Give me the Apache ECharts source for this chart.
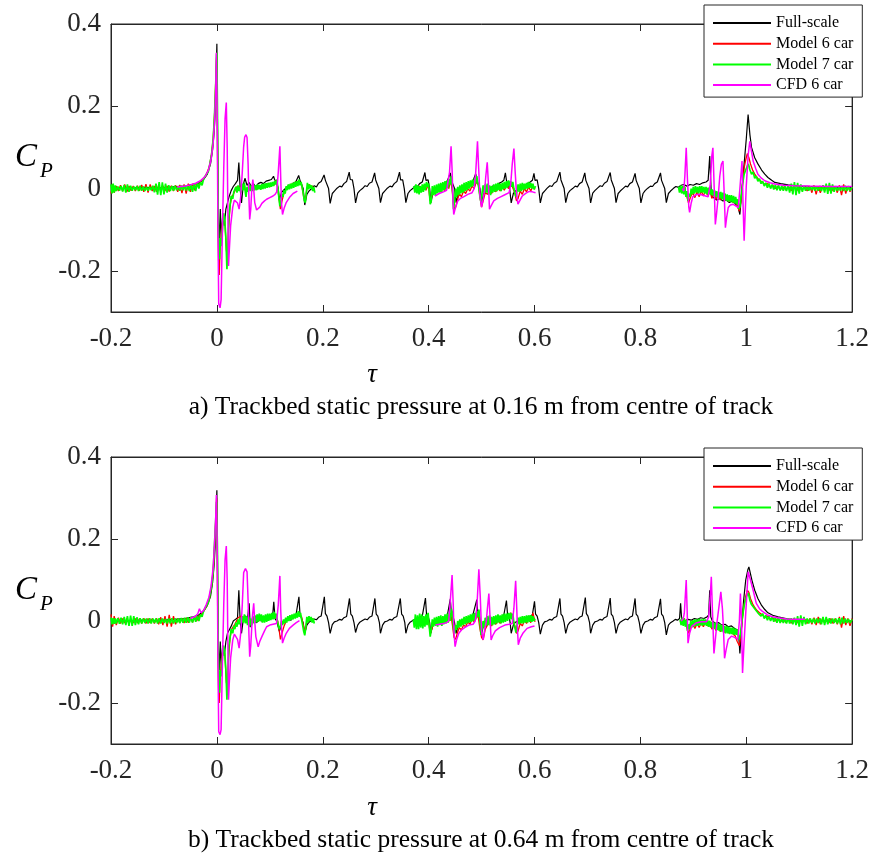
<!DOCTYPE html>
<html><head><meta charset="utf-8">
<script src="https://cdn.jsdelivr.net/npm/echarts@6/dist/echarts.min.js"></script>
<style>html,body{margin:0;padding:0;background:#fff;}#c{width:872px;height:857px;}</style>
</head><body><div id="c"></div>
<script>
const seriesNames = ['Full-scale', 'Model 6 car', 'Model 7 car', 'CFD 6 car'];
const xTicks = [-0.2, 0, 0.2, 0.4, 0.6, 0.8, 1, 1.2];
const yTicks = [-0.2, 0, 0.2, 0.4];
const captionA = 'a) Trackbed static pressure at 0.16 m from centre of track';
const captionB = 'b) Trackbed static pressure at 0.64 m from centre of track';

// ---------- (a) 0.16 m ----------
const fullScaleA = [[-0.2,0.002],[-0.17,0.0],[-0.14,0.003],[-0.11,0.001],[-0.08,0.004],[-0.06,0.006],[-0.045,0.01],[-0.035,0.013],[-0.025,0.022],[-0.018,0.035],[-0.012,0.06],[-0.008,0.095],[-0.005,0.14],[-0.003,0.19],[-0.0015,0.26],[0,0.352],[0.0015,0.1],[0.003,-0.08],[0.0045,-0.135],[0.0065,-0.05],[0.0085,-0.125],[0.011,-0.065],[0.014,-0.09],[0.017,-0.05],[0.02,-0.035],[0.023,-0.02],[0.027,-0.005],[0.031,0.005],[0.035,0.012],[0.039,0.02],[0.0415,0.063],[0.044,0.0],[0.0465,-0.035],[0.05,0.01],[0.053,0.025],[0.057,0.008],[0.061,0.015],[0.065,0.005],[0.069,0.012],[0.073,0.004],[0.078,0.012],[0.083,0.015],[0.088,0.012],[0.093,0.018],[0.098,0.02],[0.103,0.022],[0.107,0.03],[0.109,0.022],[0.113,0.015],[0.116,0.0],
[0.118,-0.028],[0.122,-0.01],[0.126,-0.004],[0.131,0.002],[0.136,0.008],[0.14,0.005],[0.144,0.013],[0.149,0.016],[0.152,0.02],[0.1545,0.032],[0.157,0.02],[0.16,0.021],[0.163,0.0],
[0.166,-0.04],[0.17,-0.014],[0.174,-0.006],[0.179,0.0],[0.184,0.007],[0.188,0.004],[0.192,0.013],[0.197,0.017],[0.2,0.02],[0.2025,0.033],[0.205,0.02],[0.208,0.021],[0.211,0.0],
[0.214,-0.036],[0.218,-0.012],[0.222,-0.006],[0.227,0.001],[0.232,0.006],[0.236,0.004],[0.24,0.012],[0.245,0.017],[0.248,0.021],[0.25,0.04],[0.252,0.022],[0.256,0.021],[0.259,0.0],
[0.262,-0.035],[0.266,-0.011],[0.27,-0.005],[0.275,0.0],[0.28,0.007],[0.284,0.005],[0.288,0.013],[0.293,0.016],[0.296,0.02],[0.298,0.038],[0.3,0.021],[0.303,0.022],[0.306,0.0],
[0.309,-0.034],[0.313,-0.012],[0.317,-0.006],[0.322,0.001],[0.327,0.006],[0.331,0.004],[0.335,0.012],[0.34,0.017],[0.343,0.02],[0.345,0.04],[0.347,0.021],[0.351,0.021],[0.354,0.0],
[0.357,-0.034],[0.361,-0.012],[0.365,-0.005],[0.37,0.0],[0.375,0.007],[0.379,0.005],[0.383,0.012],[0.388,0.016],[0.391,0.02],[0.393,0.039],[0.395,0.02],[0.399,0.021],[0.402,0.0],
[0.404,-0.035],[0.408,-0.012],[0.412,-0.006],[0.417,0.0],[0.422,0.006],[0.426,0.004],[0.43,0.013],[0.435,0.017],[0.438,0.021],[0.441,0.038],[0.443,0.02],[0.446,0.021],[0.449,0.0],
[0.452,-0.034],[0.456,-0.011],[0.46,-0.005],[0.465,0.001],[0.47,0.007],[0.474,0.005],[0.478,0.012],[0.483,0.016],[0.486,0.02],[0.489,0.036],[0.491,0.02],[0.494,0.021],[0.497,0.0],
[0.5,-0.034],[0.504,-0.012],[0.508,-0.006],[0.514,0.0],[0.52,0.006],[0.526,0.004],[0.532,0.012],[0.538,0.016],[0.542,0.02],[0.545,0.038],[0.547,0.02],[0.55,0.021],[0.553,0.0],
[0.556,-0.035],[0.56,-0.012],[0.564,-0.006],[0.57,0.0],[0.576,0.006],[0.581,0.004],[0.586,0.012],[0.592,0.016],[0.596,0.02],[0.599,0.037],[0.601,0.02],[0.605,0.021],[0.608,0.0],
[0.611,-0.035],[0.615,-0.012],[0.619,-0.006],[0.624,0.001],[0.629,0.007],[0.633,0.005],[0.637,0.013],[0.642,0.017],[0.645,0.021],[0.648,0.04],[0.65,0.021],[0.653,0.022],[0.656,0.0],
[0.659,-0.034],[0.663,-0.012],[0.667,-0.005],[0.672,0.0],[0.677,0.006],[0.681,0.004],[0.685,0.012],[0.69,0.016],[0.693,0.02],[0.695,0.038],[0.697,0.02],[0.7,0.021],[0.703,0.0],
[0.706,-0.035],[0.71,-0.011],[0.714,-0.005],[0.719,0.001],[0.724,0.007],[0.728,0.005],[0.732,0.013],[0.737,0.017],[0.74,0.021],[0.743,0.039],[0.745,0.021],[0.748,0.021],[0.751,0.0],
[0.754,-0.034],[0.758,-0.012],[0.762,-0.006],[0.767,0.0],[0.772,0.006],[0.776,0.004],[0.78,0.012],[0.785,0.016],[0.788,0.02],[0.79,0.037],[0.792,0.02],[0.795,0.021],[0.798,0.0],
[0.801,-0.035],[0.805,-0.012],[0.809,-0.005],[0.814,0.001],[0.819,0.006],[0.823,0.005],[0.827,0.012],[0.832,0.016],[0.835,0.02],[0.838,0.038],[0.84,0.02],[0.843,0.021],[0.846,0.0],
[0.849,-0.034],[0.853,-0.012],[0.857,-0.006],[0.862,0.0],[0.867,0.005],[0.872,0.003],[0.877,0.008],[0.882,0.01],[0.888,0.006],[0.894,0.01],[0.9,0.008],[0.906,0.012],[0.912,0.01],[0.918,0.014],[0.924,0.016],[0.928,0.02],[0.931,0.079],[0.934,-0.015],[0.938,-0.022],[0.944,-0.028],[0.95,-0.024],[0.956,-0.03],[0.962,-0.028],[0.968,-0.034],[0.974,-0.03],[0.98,-0.038],[0.984,-0.042],[0.988,-0.063],[0.992,0.0],[0.996,0.06],[1.0,0.12],[1.0035,0.18],[1.007,0.13],[1.01,0.1],[1.016,0.075],[1.022,0.06],[1.029,0.045],[1.035,0.035],[1.041,0.027],[1.048,0.02],[1.054,0.015],[1.065,0.012],[1.079,0.009],[1.1,0.006],[1.13,0.004],[1.16,0.003],[1.2,0.003]];

const model6A = [
[[-0.2,-0.012],[-0.197,0.01],[-0.194,-0.01],[-0.19,0.006],[-0.186,-0.006],[-0.182,0.008],[-0.178,-0.006],[-0.174,0.01],[-0.17,-0.008],[-0.166,0.006],[-0.162,-0.005],[-0.158,0.006],[-0.154,-0.006],[-0.15,0.007],[-0.146,-0.005],[-0.142,0.009],[-0.138,-0.008],[-0.134,0.011],[-0.13,-0.01],[-0.126,0.01],[-0.122,-0.006],[-0.118,0.006],[-0.114,-0.008],[-0.11,0.008],[-0.106,-0.007],[-0.102,0.007],[-0.098,-0.006],[-0.094,0.006],[-0.09,-0.007],[-0.086,0.007],[-0.082,-0.006],[-0.078,0.008],[-0.074,-0.008],[-0.07,0.009],[-0.066,-0.011],[-0.062,0.01],[-0.058,-0.012],[-0.054,0.012],[-0.05,-0.008],[-0.046,0.012],[-0.042,-0.004],[-0.038,0.014],[-0.034,0.006],[-0.03,0.02],[-0.026,0.022],[-0.022,0.03],[-0.018,0.04],[-0.014,0.055],[-0.01,0.085],[-0.007,0.12],[-0.004,0.19],[-0.002,0.27],[-0.0005,0.32],[0.0005,0.25],[0.002,-0.08],[0.0035,-0.19],[0.0045,-0.21],[0.006,-0.15],[0.008,-0.12],[0.01,-0.09],[0.012,-0.07],[0.015,-0.08],[0.018,-0.15],[0.02,-0.17],[0.022,-0.1],[0.025,-0.04],[0.028,-0.02],[0.031,-0.014],[0.034,-0.006],[0.037,0.004],[0.04,0.008],[0.043,0.004],[0.046,0.006],[0.049,0.0],[0.052,0.008],[0.055,-0.01],[0.058,0.0],[0.061,0.008],[0.064,-0.002],[0.067,0.006],[0.07,-0.004],[0.073,0.006],[0.076,-0.002],[0.08,0.008],[0.084,0.0],[0.088,0.01],[0.092,0.002],[0.096,0.012],[0.1,0.004],[0.104,0.012],[0.108,0.008],[0.112,0.02],[0.115,0.0],[0.118,-0.03],[0.12,-0.05],[0.123,-0.03],[0.127,-0.01],[0.131,0.0],[0.135,0.006],[0.14,0.01],[0.145,0.012],[0.15,0.016],[0.155,0.018],[0.16,0.01],[0.164,-0.02],[0.167,-0.03],[0.17,0.0],[0.174,0.01],[0.178,0.004],[0.182,0.006]],
[[0.375,0.0],[0.379,-0.006],[0.383,0.006],[0.387,-0.006],[0.391,0.008],[0.395,-0.004],[0.399,0.01],[0.403,-0.03],[0.406,-0.02],[0.41,0.0],[0.414,-0.01],[0.418,0.006],[0.422,-0.008],[0.426,0.01],[0.43,-0.006],[0.434,0.012],[0.438,0.0],[0.442,0.02],[0.445,-0.01],[0.448,-0.05],[0.451,-0.045],[0.454,-0.03],[0.458,-0.012],[0.462,-0.02],[0.466,-0.006],[0.47,-0.012],[0.474,0.0],[0.478,-0.006],[0.482,0.006],[0.486,0.0],[0.49,0.016],[0.494,0.01],[0.497,-0.02],[0.5,-0.045],[0.503,-0.03],[0.507,-0.01],[0.511,-0.014],[0.515,-0.004],[0.519,-0.012],[0.523,0.0],[0.527,-0.008],[0.531,0.004],[0.535,-0.006],[0.539,0.006],[0.543,-0.004],[0.547,0.008],[0.551,0.0],[0.555,0.012],[0.559,0.002],[0.563,-0.012],[0.566,-0.03],[0.569,-0.024],[0.573,-0.006],[0.577,-0.014],[0.581,0.0],[0.585,-0.008],[0.589,0.004],[0.593,-0.006],[0.597,0.006],[0.601,-0.002]],
[[0.875,0.0],[0.879,-0.01],[0.883,0.006],[0.887,-0.016],[0.891,-0.035],[0.895,-0.02],[0.899,-0.01],[0.903,-0.022],[0.907,-0.008],[0.911,-0.02],[0.915,-0.006],[0.919,-0.018],[0.923,-0.004],[0.927,-0.016],[0.931,-0.002],[0.935,-0.024],[0.939,-0.012],[0.943,-0.026],[0.947,-0.014],[0.951,-0.028],[0.955,-0.016],[0.959,-0.03],[0.963,-0.018],[0.967,-0.032],[0.971,-0.02],[0.975,-0.034],[0.979,-0.026],[0.983,-0.042],[0.987,-0.055],[0.99,-0.03],[0.993,0.01],[0.996,0.05],[0.999,0.07],[1.002,0.085],[1.005,0.075],[1.008,0.06],[1.012,0.045],[1.016,0.035],[1.02,0.028],[1.025,0.02],[1.03,0.016],[1.035,0.01],[1.04,0.012],[1.045,0.004],[1.05,0.008],[1.055,0.0],[1.06,0.006],[1.065,-0.002],[1.07,0.004],[1.075,-0.004],[1.08,0.005],[1.085,-0.005],[1.09,0.006],[1.095,-0.006],[1.1,0.004],[1.105,-0.004],[1.11,0.005],[1.115,-0.006],[1.12,0.006],[1.124,-0.01],[1.128,0.008],[1.132,-0.014],[1.136,0.006],[1.14,-0.01],[1.144,0.006],[1.148,-0.005],[1.152,0.005],[1.156,-0.005],[1.16,0.006],[1.164,-0.006],[1.168,0.006],[1.172,-0.01],[1.176,0.008],[1.18,-0.016],[1.184,0.01],[1.188,-0.012],[1.192,0.006],[1.196,-0.008],[1.2,0.004]]
];

const model7A = [
[[-0.2,0.01],[-0.198,-0.012],[-0.196,0.012],[-0.194,-0.01],[-0.192,0.008],[-0.19,-0.006],[-0.187,0.005],[-0.184,-0.005],[-0.181,0.006],[-0.178,-0.007],[-0.175,0.009],[-0.172,-0.01],[-0.169,0.01],[-0.166,-0.008],[-0.163,0.007],[-0.16,-0.005],[-0.157,0.005],[-0.154,-0.004],[-0.151,0.006],[-0.148,-0.006],[-0.145,0.007],[-0.142,-0.005],[-0.139,0.005],[-0.136,-0.006],[-0.133,0.004],[-0.13,-0.005],[-0.127,0.005],[-0.124,-0.004],[-0.121,0.007],[-0.118,-0.009],[-0.115,0.012],[-0.112,-0.015],[-0.109,0.016],[-0.106,-0.016],[-0.103,0.015],[-0.1,-0.014],[-0.097,0.012],[-0.094,-0.01],[-0.091,0.008],[-0.088,-0.006],[-0.085,0.006],[-0.082,-0.005],[-0.079,0.007],[-0.076,-0.004],[-0.073,0.006],[-0.07,-0.005],[-0.067,0.007],[-0.064,-0.004],[-0.061,0.008],[-0.058,-0.005],[-0.055,0.008],[-0.052,-0.006],[-0.049,0.01],[-0.046,-0.008],[-0.043,0.013],[-0.04,-0.006],[-0.037,0.014],[-0.034,0.0],[-0.031,0.016],[-0.028,0.008],[-0.025,0.024],[-0.022,0.022],[-0.019,0.036],[-0.016,0.042],[-0.013,0.062],[-0.01,0.083],[-0.007,0.12],[-0.0044,0.18],[-0.002,0.26],[-0.0006,0.325],[0,0.33],[0.001,0.2],[0.0025,-0.05],[0.004,-0.15],[0.005,-0.172],[0.0065,-0.12],[0.008,-0.14],[0.0105,-0.1],[0.0125,-0.06],[0.0146,-0.069],[0.017,-0.12],[0.019,-0.196],[0.021,-0.14],[0.0227,-0.069],[0.025,-0.04],[0.027,-0.018],[0.03,-0.025],[0.032,-0.008],[0.034,-0.012],[0.036,0.004],[0.038,-0.01],[0.04,0.008],[0.042,-0.006],[0.044,0.004],[0.046,-0.01],[0.048,0.012],[0.05,-0.004],[0.052,0.014],[0.054,-0.012],[0.055,-0.02],[0.057,0.004],[0.059,-0.008],[0.061,0.01],[0.063,-0.006],[0.065,0.008],[0.067,-0.006],[0.069,0.01],[0.071,-0.004],[0.073,0.008],[0.075,-0.004],[0.077,0.01],[0.079,-0.002],[0.081,0.009],[0.083,-0.003],[0.085,0.011],[0.087,-0.001],[0.089,0.012],[0.091,0.0],[0.093,0.013],[0.095,0.002],[0.097,0.014],[0.099,0.003],[0.101,0.015],[0.103,0.004],[0.105,0.016],[0.107,0.006],[0.109,0.018],[0.111,0.01],[0.113,0.022],[0.115,0.005],[0.117,-0.02],[0.119,-0.043],[0.121,-0.03],[0.123,-0.012],[0.125,-0.02],[0.127,-0.004],[0.129,-0.012],[0.131,0.006],[0.133,-0.004],[0.135,0.01],[0.137,-0.002],[0.139,0.012],[0.141,0.0],[0.143,0.014],[0.145,0.002],[0.147,0.016],[0.149,0.004],[0.151,0.018],[0.153,0.006],[0.155,0.022],[0.157,0.008],[0.159,0.016],[0.161,0.004],[0.163,-0.01],[0.165,-0.028],[0.167,-0.034],[0.169,-0.01],[0.171,0.014],[0.173,-0.002],[0.175,0.01],[0.177,0.0],[0.179,0.008],[0.181,-0.006],[0.183,0.004],[0.185,-0.01]],
[[0.372,0.006],[0.374,-0.01],[0.376,0.01],[0.378,-0.012],[0.38,0.008],[0.382,-0.014],[0.384,0.006],[0.386,-0.01],[0.388,0.01],[0.39,-0.008],[0.392,0.012],[0.394,-0.004],[0.396,0.016],[0.398,0.004],[0.4,0.012],[0.402,-0.02],[0.403,-0.038],[0.405,-0.03],[0.407,0.006],[0.409,-0.016],[0.411,0.008],[0.413,-0.018],[0.415,0.01],[0.417,-0.012],[0.419,0.012],[0.421,-0.01],[0.423,0.014],[0.425,-0.008],[0.427,0.016],[0.429,-0.004],[0.431,0.018],[0.433,-0.002],[0.435,0.02],[0.437,0.002],[0.439,0.024],[0.441,0.01],[0.443,0.03],[0.445,0.0],[0.447,-0.05],[0.449,-0.03],[0.451,0.0],[0.453,-0.02],[0.455,0.004],[0.457,-0.016],[0.459,0.008],[0.461,-0.012],[0.463,0.01],[0.465,-0.01],[0.467,0.014],[0.469,-0.006],[0.471,0.016],[0.473,-0.004],[0.475,0.018],[0.477,0.0],[0.479,0.02],[0.481,0.004],[0.483,0.022],[0.485,0.006],[0.487,0.026],[0.489,0.012],[0.491,0.03],[0.493,0.015],[0.495,0.0],[0.497,-0.02],[0.499,-0.034],[0.501,-0.01],[0.503,0.008],[0.505,-0.012],[0.507,0.01],[0.509,-0.01],[0.511,0.012],[0.513,-0.014],[0.515,0.008],[0.517,-0.016],[0.519,0.006],[0.521,-0.01],[0.523,0.01],[0.525,-0.008],[0.527,0.012],[0.529,-0.006],[0.531,0.014],[0.533,-0.004],[0.535,0.012],[0.537,-0.006],[0.539,0.014],[0.541,-0.002],[0.543,0.016],[0.545,0.0],[0.547,0.018],[0.549,0.002],[0.551,0.02],[0.553,0.006],[0.555,0.018],[0.557,0.004],[0.559,0.016],[0.561,0.0],[0.563,-0.01],[0.565,-0.02],[0.567,-0.006],[0.569,0.01],[0.571,-0.008],[0.573,0.012],[0.575,-0.006],[0.577,0.014],[0.579,-0.004],[0.581,0.012],[0.583,-0.002],[0.585,0.014],[0.587,0.0],[0.589,0.016],[0.591,0.002],[0.593,0.014],[0.595,0.0],[0.597,0.012],[0.599,-0.002],[0.602,0.006]],
[[0.872,0.004],[0.874,-0.01],[0.876,0.008],[0.878,-0.012],[0.88,0.006],[0.882,-0.014],[0.884,0.004],[0.886,-0.02],[0.888,-0.006],[0.89,-0.03],[0.892,-0.012],[0.894,-0.02],[0.896,0.0],[0.898,-0.014],[0.9,0.004],[0.902,-0.012],[0.904,0.006],[0.906,-0.01],[0.908,0.004],[0.91,-0.012],[0.912,0.006],[0.914,-0.01],[0.916,0.006],[0.918,-0.01],[0.92,0.004],[0.922,-0.012],[0.924,0.004],[0.926,-0.014],[0.928,0.002],[0.93,-0.014],[0.932,0.0],[0.934,-0.016],[0.936,-0.002],[0.938,-0.018],[0.94,-0.004],[0.942,-0.02],[0.944,-0.006],[0.946,-0.022],[0.948,-0.008],[0.95,-0.024],[0.952,-0.008],[0.954,-0.026],[0.956,-0.01],[0.958,-0.028],[0.96,-0.012],[0.962,-0.03],[0.964,-0.014],[0.966,-0.032],[0.968,-0.016],[0.97,-0.032],[0.972,-0.016],[0.974,-0.034],[0.976,-0.018],[0.978,-0.036],[0.98,-0.02],[0.982,-0.038],[0.984,-0.026],[0.986,-0.05],[0.988,-0.045],[0.99,-0.02],[0.993,0.01],[0.996,0.035],[0.999,0.045],[1.002,0.055],[1.004,0.06],[1.007,0.045],[1.01,0.035],[1.013,0.04],[1.016,0.025],[1.019,0.03],[1.022,0.018],[1.025,0.024],[1.028,0.012],[1.031,0.018],[1.034,0.006],[1.037,0.014],[1.04,0.002],[1.043,0.012],[1.046,0.0],[1.049,0.01],[1.052,-0.002],[1.055,0.009],[1.058,-0.004],[1.061,0.008],[1.064,-0.005],[1.067,0.007],[1.07,-0.005],[1.073,0.006],[1.076,-0.006],[1.079,0.008],[1.082,-0.01],[1.085,0.012],[1.088,-0.014],[1.091,0.016],[1.094,-0.016],[1.097,0.014],[1.1,-0.012],[1.103,0.01],[1.106,-0.008],[1.109,0.006],[1.112,-0.005],[1.115,0.006],[1.118,-0.005],[1.121,0.005],[1.124,-0.004],[1.127,0.006],[1.13,-0.005],[1.133,0.005],[1.136,-0.005],[1.139,0.006],[1.142,-0.006],[1.145,0.008],[1.148,-0.01],[1.151,0.012],[1.154,-0.013],[1.157,0.014],[1.16,-0.012],[1.163,0.01],[1.166,-0.008],[1.169,0.006],[1.172,-0.005],[1.175,0.005],[1.178,-0.005],[1.181,0.006],[1.184,-0.006],[1.187,0.007],[1.19,-0.006],[1.193,0.006],[1.196,-0.005],[1.2,0.004]]
];

const cfd6A = [
[[-0.075,0.004],[-0.06,0.006],[-0.05,0.009],[-0.04,0.013],[-0.03,0.02],[-0.022,0.03],[-0.016,0.045],[-0.011,0.07],[-0.007,0.11],[-0.004,0.17],[-0.002,0.25],[-0.001,0.33],[0.0005,0.2],[0.002,-0.1],[0.0035,-0.28],[0.006,-0.29],[0.008,-0.27],[0.0105,-0.1],[0.013,0.05],[0.0155,0.17],[0.0178,0.209],[0.0195,0.1],[0.021,-0.08],[0.022,-0.188],[0.0235,-0.15],[0.026,-0.09],[0.03,-0.045],[0.033,-0.028],[0.036,-0.026],[0.039,-0.035],[0.042,-0.05],[0.045,-0.02],[0.048,0.04],[0.0505,0.1],[0.0525,0.125],[0.055,0.131],[0.057,0.124],[0.059,0.06],[0.0605,-0.02],[0.062,-0.075],[0.064,-0.05],[0.066,0.0],[0.068,0.022],[0.0695,0.0],[0.0715,-0.034],[0.075,-0.052],[0.078,-0.054],[0.081,-0.045],[0.085,-0.036],[0.09,-0.03],[0.094,-0.026],[0.1,-0.022],[0.106,-0.018],[0.11,-0.014],[0.113,-0.008],[0.116,0.04],[0.119,0.103],[0.1205,0.03],[0.122,-0.034],[0.124,-0.063],[0.127,-0.048],[0.131,-0.034],[0.137,-0.022],[0.144,-0.012],[0.152,-0.006]],
[[0.412,-0.018],[0.42,-0.012],[0.428,-0.008],[0.434,-0.004],[0.437,0.0],[0.4395,0.04],[0.4424,0.103],[0.4445,0.04],[0.446,-0.03],[0.4474,-0.063],[0.45,-0.05],[0.455,-0.03],[0.46,-0.024],[0.466,-0.02],[0.474,-0.014],[0.482,-0.01],[0.486,0.0],[0.489,0.04],[0.4923,0.115],[0.4945,0.05],[0.497,-0.018],[0.5,-0.045],[0.503,-0.025],[0.506,-0.002],[0.508,0.03],[0.5107,0.064],[0.513,0.01],[0.515,-0.05],[0.518,-0.042],[0.523,-0.03],[0.53,-0.024],[0.536,-0.02],[0.544,-0.015],[0.552,-0.01],[0.555,0.01],[0.558,0.06],[0.5611,0.097],[0.5635,0.04],[0.566,-0.01],[0.5687,-0.038],[0.572,-0.03],[0.577,-0.018],[0.584,-0.011],[0.59,-0.007],[0.596,-0.008],[0.602,-0.01]],
[[0.879,0.0],[0.882,-0.006],[0.884,0.03],[0.8866,0.099],[0.889,0.02],[0.8915,-0.045],[0.893,-0.058],[0.896,-0.035],[0.899,-0.02],[0.905,-0.015],[0.912,-0.014],[0.92,-0.017],[0.928,-0.02],[0.932,0.01],[0.935,0.08],[0.937,0.099],[0.9395,0.0],[0.9416,-0.087],[0.944,-0.06],[0.947,-0.02],[0.95,0.03],[0.953,0.059],[0.956,0.067],[0.958,0.0],[0.9606,-0.095],[0.963,-0.07],[0.966,-0.046],[0.97,-0.04],[0.975,-0.038],[0.98,-0.042],[0.985,-0.046],[0.988,0.0],[0.992,0.067],[0.994,-0.04],[0.996,-0.127],[0.998,-0.06],[1.0,0.005],[1.0035,0.08],[1.0067,0.115],[1.01,0.09],[1.013,0.067],[1.018,0.048],[1.022,0.035],[1.028,0.026],[1.035,0.019],[1.045,0.014],[1.054,0.011],[1.07,0.008],[1.09,0.007],[1.12,0.006],[1.16,0.005],[1.2,0.005]]
];

// ---------- (b) 0.64 m ----------
const fullScaleB = [[-0.2,0.002],[-0.17,0.0],[-0.14,0.002],[-0.11,0.001],[-0.08,0.004],[-0.06,0.006],[-0.045,0.01],[-0.035,0.014],[-0.025,0.024],[-0.018,0.038],[-0.012,0.06],[-0.008,0.095],[-0.005,0.14],[-0.003,0.19],[-0.0015,0.25],[0,0.319],[0.0015,0.1],[0.003,-0.07],[0.0045,-0.12],[0.0065,-0.05],[0.0085,-0.115],[0.011,-0.06],[0.014,-0.085],[0.017,-0.05],[0.02,-0.03],[0.024,-0.02],[0.028,-0.01],[0.031,0.0],[0.035,0.004],[0.039,0.008],[0.0415,0.075],[0.044,0.0],[0.0465,-0.03],[0.05,0.005],[0.054,0.012],[0.058,0.008],[0.061,0.043],[0.063,-0.015],[0.066,-0.005],[0.07,0.0],[0.075,-0.004],[0.08,0.002],[0.085,0.0],[0.09,0.004],[0.095,0.002],[0.1,0.006],[0.105,0.008],[0.1075,0.047],[0.11,0.005],[0.113,0.0],
[0.118,-0.025],[0.122,-0.01],[0.126,-0.003],[0.131,0.0],[0.136,0.004],[0.14,0.002],[0.144,0.008],[0.149,0.011],[0.152,0.014],[0.155,0.059],[0.157,0.016],[0.16,0.012],[0.163,-0.004],
[0.166,-0.03],[0.17,-0.01],[0.174,-0.003],[0.179,0.001],[0.184,0.005],[0.188,0.003],[0.192,0.009],[0.197,0.012],[0.2,0.015],[0.203,0.059],[0.205,0.018],[0.208,0.012],[0.211,-0.004],
[0.214,-0.03],[0.218,-0.009],[0.222,-0.002],[0.227,0.0],[0.232,0.004],[0.236,0.002],[0.24,0.008],[0.245,0.011],[0.248,0.015],[0.2505,0.055],[0.253,0.017],[0.256,0.012],[0.259,-0.004],
[0.262,-0.028],[0.266,-0.01],[0.27,-0.003],[0.275,0.001],[0.28,0.005],[0.284,0.003],[0.288,0.009],[0.293,0.012],[0.296,0.014],[0.2985,0.055],[0.301,0.017],[0.304,0.012],[0.307,-0.004],
[0.309,-0.03],[0.313,-0.01],[0.317,-0.002],[0.322,0.0],[0.327,0.004],[0.331,0.002],[0.335,0.008],[0.34,0.011],[0.343,0.014],[0.3465,0.055],[0.349,0.017],[0.352,0.012],[0.355,-0.004],
[0.357,-0.03],[0.361,-0.01],[0.365,-0.003],[0.37,0.001],[0.375,0.005],[0.379,0.003],[0.383,0.009],[0.388,0.012],[0.391,0.015],[0.394,0.056],[0.396,0.017],[0.399,0.012],[0.402,-0.004],
[0.404,-0.03],[0.408,-0.01],[0.412,-0.002],[0.417,0.0],[0.422,0.004],[0.426,0.002],[0.43,0.008],[0.435,0.011],[0.438,0.014],[0.441,0.054],[0.443,0.017],[0.446,0.012],[0.449,-0.004],
[0.452,-0.03],[0.456,-0.01],[0.46,-0.003],[0.465,0.001],[0.47,0.005],[0.474,0.003],[0.478,0.009],[0.483,0.012],[0.486,0.015],[0.491,0.052],[0.493,0.017],[0.496,0.012],[0.498,-0.004],
[0.5,-0.03],[0.504,-0.01],[0.508,-0.003],[0.514,0.0],[0.52,0.004],[0.526,0.002],[0.532,0.008],[0.538,0.011],[0.542,0.014],[0.547,0.05],[0.549,0.017],[0.552,0.012],[0.554,-0.004],
[0.556,-0.03],[0.56,-0.01],[0.564,-0.003],[0.57,0.001],[0.576,0.005],[0.581,0.003],[0.586,0.009],[0.592,0.012],[0.596,0.015],[0.6,0.048],[0.602,0.017],[0.605,0.012],[0.608,-0.004],
[0.611,-0.032],[0.615,-0.01],[0.619,-0.002],[0.624,0.0],[0.629,0.004],[0.633,0.002],[0.637,0.008],[0.642,0.011],[0.645,0.014],[0.648,0.055],[0.65,0.017],[0.653,0.012],[0.656,-0.004],
[0.659,-0.03],[0.663,-0.01],[0.667,-0.003],[0.672,0.001],[0.677,0.005],[0.681,0.003],[0.685,0.009],[0.69,0.012],[0.693,0.015],[0.696,0.057],[0.698,0.018],[0.701,0.012],[0.704,-0.004],
[0.706,-0.03],[0.71,-0.01],[0.714,-0.002],[0.719,0.0],[0.724,0.004],[0.728,0.002],[0.732,0.008],[0.737,0.011],[0.74,0.014],[0.743,0.056],[0.745,0.017],[0.748,0.012],[0.751,-0.004],
[0.754,-0.03],[0.758,-0.01],[0.762,-0.003],[0.767,0.001],[0.772,0.005],[0.776,0.003],[0.78,0.009],[0.785,0.012],[0.788,0.015],[0.79,0.055],[0.792,0.017],[0.795,0.012],[0.798,-0.004],
[0.801,-0.03],[0.805,-0.01],[0.809,-0.002],[0.814,0.0],[0.819,0.004],[0.823,0.002],[0.827,0.008],[0.832,0.011],[0.835,0.014],[0.838,0.054],[0.84,0.017],[0.843,0.012],[0.846,-0.004],
[0.849,-0.034],[0.853,-0.01],[0.857,-0.004],[0.862,0.0],[0.866,0.004],[0.87,0.002],[0.874,0.006],[0.876,0.043],[0.878,0.004],[0.884,0.0],[0.89,0.004],[0.896,0.002],[0.902,0.006],[0.908,0.004],[0.914,0.008],[0.92,0.006],[0.926,0.01],[0.929,0.015],[0.931,0.075],[0.933,0.01],[0.936,0.0],[0.942,-0.006],[0.948,-0.004],[0.954,-0.01],[0.96,-0.008],[0.966,-0.014],[0.972,-0.012],[0.978,-0.018],[0.983,-0.022],[0.986,-0.04],[0.988,-0.079],[0.991,-0.02],[0.995,0.05],[0.999,0.1],[1.003,0.125],[1.005,0.132],[1.008,0.115],[1.011,0.098],[1.016,0.075],[1.022,0.055],[1.029,0.038],[1.035,0.028],[1.041,0.02],[1.05,0.014],[1.06,0.01],[1.075,0.006],[1.09,0.003],[1.12,0.001],[1.16,0.0],[1.2,0.0]];

const model6B = [
[[-0.2,0.016],[-0.197,-0.014],[-0.194,0.012],[-0.19,-0.01],[-0.186,0.008],[-0.182,-0.006],[-0.178,0.006],[-0.174,-0.005],[-0.17,0.006],[-0.166,-0.006],[-0.162,0.005],[-0.158,-0.005],[-0.154,0.006],[-0.15,-0.005],[-0.146,0.006],[-0.142,-0.006],[-0.138,0.007],[-0.134,-0.006],[-0.13,0.006],[-0.126,-0.005],[-0.122,0.006],[-0.118,-0.006],[-0.114,0.007],[-0.11,-0.008],[-0.106,0.009],[-0.102,-0.01],[-0.098,0.012],[-0.094,-0.014],[-0.09,0.015],[-0.086,-0.014],[-0.082,0.012],[-0.078,-0.008],[-0.074,0.006],[-0.07,-0.005],[-0.066,0.006],[-0.062,-0.005],[-0.058,0.007],[-0.054,-0.004],[-0.05,0.008],[-0.046,-0.003],[-0.042,0.01],[-0.038,0.0],[-0.034,0.012],[-0.03,0.014],[-0.026,0.022],[-0.022,0.03],[-0.018,0.04],[-0.014,0.055],[-0.01,0.085],[-0.007,0.12],[-0.004,0.19],[-0.002,0.25],[-0.0005,0.3],[0.0005,0.22],[0.002,-0.08],[0.0035,-0.18],[0.0045,-0.2],[0.006,-0.14],[0.008,-0.11],[0.01,-0.085],[0.012,-0.065],[0.015,-0.08],[0.018,-0.15],[0.02,-0.16],[0.022,-0.09],[0.025,-0.04],[0.028,-0.02],[0.031,-0.016],[0.034,-0.008],[0.037,0.0],[0.04,0.008],[0.043,0.004],[0.046,0.012],[0.049,0.0],[0.052,0.01],[0.055,-0.004],[0.058,0.006],[0.061,-0.006],[0.064,0.004],[0.067,-0.004],[0.07,0.006],[0.073,-0.002],[0.076,0.008],[0.08,0.0],[0.084,0.01],[0.088,0.002],[0.092,0.012],[0.096,0.004],[0.1,0.014],[0.104,0.006],[0.108,0.014],[0.112,0.008],[0.115,0.0],[0.118,-0.025],[0.12,-0.045],[0.123,-0.03],[0.127,-0.012],[0.131,0.0],[0.135,0.006],[0.14,0.008],[0.145,0.012],[0.15,0.014],[0.155,0.018],[0.16,0.01],[0.164,-0.015],[0.167,-0.025],[0.17,0.0],[0.174,0.01],[0.178,0.004],[0.182,0.006]],
[[0.375,0.0],[0.379,-0.008],[0.383,0.008],[0.387,-0.008],[0.391,0.008],[0.395,-0.006],[0.399,0.01],[0.403,-0.03],[0.406,-0.02],[0.41,0.0],[0.414,-0.01],[0.418,0.006],[0.422,-0.008],[0.426,0.008],[0.43,-0.006],[0.434,0.01],[0.438,0.0],[0.442,0.016],[0.445,-0.01],[0.448,-0.04],[0.451,-0.045],[0.454,-0.03],[0.458,-0.016],[0.462,-0.022],[0.466,-0.01],[0.47,-0.014],[0.474,-0.002],[0.478,-0.008],[0.482,0.004],[0.486,-0.002],[0.49,0.014],[0.494,0.008],[0.497,-0.02],[0.5,-0.04],[0.503,-0.046],[0.507,-0.02],[0.511,-0.01],[0.515,-0.004],[0.519,-0.012],[0.523,0.0],[0.527,-0.008],[0.531,0.004],[0.535,-0.006],[0.539,0.008],[0.543,0.0],[0.547,0.014],[0.551,0.006],[0.555,0.02],[0.559,0.004],[0.563,-0.012],[0.566,-0.03],[0.569,-0.024],[0.573,-0.006],[0.577,-0.012],[0.581,0.002],[0.585,-0.006],[0.589,0.006],[0.593,-0.004],[0.597,0.02],[0.601,-0.002]],
[[0.875,0.0],[0.879,-0.008],[0.883,0.006],[0.887,-0.012],[0.891,-0.03],[0.895,-0.016],[0.899,-0.008],[0.903,-0.018],[0.907,-0.006],[0.911,-0.016],[0.915,-0.004],[0.919,-0.014],[0.923,-0.002],[0.927,-0.012],[0.931,0.0],[0.935,-0.02],[0.939,-0.01],[0.943,-0.024],[0.947,-0.012],[0.951,-0.026],[0.955,-0.014],[0.959,-0.028],[0.963,-0.016],[0.967,-0.03],[0.971,-0.018],[0.975,-0.032],[0.979,-0.036],[0.983,-0.05],[0.987,-0.06],[0.99,-0.03],[0.993,0.01],[0.996,0.04],[0.999,0.06],[1.002,0.075],[1.005,0.07],[1.008,0.055],[1.012,0.042],[1.016,0.033],[1.02,0.026],[1.025,0.02],[1.03,0.015],[1.035,0.01],[1.04,0.012],[1.045,0.004],[1.05,0.008],[1.055,0.0],[1.06,0.006],[1.065,-0.002],[1.07,0.004],[1.075,-0.004],[1.08,0.005],[1.085,-0.005],[1.09,0.006],[1.095,-0.006],[1.1,0.004],[1.105,-0.004],[1.11,0.005],[1.115,-0.006],[1.12,0.006],[1.124,-0.008],[1.128,0.008],[1.132,-0.01],[1.136,0.01],[1.14,-0.008],[1.144,0.006],[1.148,-0.005],[1.152,0.005],[1.156,-0.005],[1.16,0.006],[1.164,-0.006],[1.168,0.006],[1.172,-0.008],[1.176,0.01],[1.18,-0.016],[1.184,0.012],[1.188,-0.01],[1.192,0.006],[1.196,-0.012],[1.2,0.006]]
];

const model7B = [
[[-0.2,0.008],[-0.198,-0.008],[-0.196,0.007],[-0.194,-0.007],[-0.192,0.006],[-0.19,-0.006],[-0.187,0.007],[-0.184,-0.007],[-0.181,0.008],[-0.178,-0.008],[-0.175,0.01],[-0.172,-0.01],[-0.169,0.012],[-0.166,-0.012],[-0.163,0.013],[-0.16,-0.012],[-0.157,0.012],[-0.154,-0.01],[-0.151,0.009],[-0.148,-0.008],[-0.145,0.007],[-0.142,-0.006],[-0.139,0.006],[-0.136,-0.005],[-0.133,0.006],[-0.13,-0.006],[-0.127,0.007],[-0.124,-0.006],[-0.121,0.006],[-0.118,-0.005],[-0.115,0.006],[-0.112,-0.006],[-0.109,0.007],[-0.106,-0.006],[-0.103,0.006],[-0.1,-0.005],[-0.097,0.005],[-0.094,-0.006],[-0.091,0.006],[-0.088,-0.006],[-0.085,0.007],[-0.082,-0.006],[-0.079,0.006],[-0.076,-0.005],[-0.073,0.006],[-0.07,-0.005],[-0.067,0.007],[-0.064,-0.004],[-0.061,0.008],[-0.058,-0.004],[-0.055,0.009],[-0.052,-0.004],[-0.049,0.01],[-0.046,-0.004],[-0.043,0.011],[-0.04,-0.002],[-0.037,0.013],[-0.034,0.0],[-0.031,0.016],[-0.028,0.01],[-0.025,0.025],[-0.022,0.024],[-0.019,0.038],[-0.016,0.045],[-0.013,0.064],[-0.01,0.085],[-0.007,0.12],[-0.0044,0.19],[-0.002,0.25],[-0.0006,0.29],[0,0.29],[0.001,0.18],[0.0025,-0.05],[0.004,-0.14],[0.005,-0.175],[0.0065,-0.12],[0.008,-0.135],[0.0105,-0.09],[0.0125,-0.06],[0.0146,-0.07],[0.017,-0.12],[0.019,-0.192],[0.021,-0.13],[0.0227,-0.06],[0.025,-0.04],[0.027,-0.02],[0.03,-0.03],[0.032,-0.012],[0.034,-0.02],[0.036,-0.004],[0.038,-0.014],[0.04,0.004],[0.042,-0.008],[0.044,0.008],[0.046,-0.006],[0.048,0.012],[0.05,-0.004],[0.052,0.016],[0.054,-0.006],[0.056,0.012],[0.058,-0.01],[0.06,0.01],[0.062,-0.014],[0.064,0.006],[0.066,-0.01],[0.068,0.012],[0.07,-0.006],[0.072,0.014],[0.074,-0.004],[0.076,0.016],[0.078,-0.002],[0.08,0.018],[0.082,0.0],[0.084,0.016],[0.086,-0.004],[0.088,0.014],[0.09,-0.004],[0.092,0.016],[0.094,-0.002],[0.096,0.018],[0.098,0.0],[0.1,0.018],[0.102,0.002],[0.104,0.02],[0.106,0.004],[0.108,0.022],[0.11,0.006],[0.112,0.018],[0.114,0.002],[0.116,-0.01],[0.118,-0.02],[0.12,-0.012],[0.122,0.0],[0.124,-0.01],[0.126,0.004],[0.128,-0.006],[0.13,0.008],[0.132,-0.004],[0.134,0.012],[0.136,0.0],[0.138,0.014],[0.14,0.002],[0.142,0.016],[0.144,0.004],[0.146,0.018],[0.148,0.006],[0.15,0.02],[0.152,0.008],[0.154,0.024],[0.156,0.01],[0.158,0.02],[0.16,0.004],[0.162,-0.01],[0.164,-0.025],[0.166,-0.035],[0.168,-0.015],[0.17,0.01],[0.172,-0.004],[0.174,0.012],[0.176,0.0],[0.178,0.01],[0.18,-0.004],[0.182,0.006],[0.184,-0.006]],
[[0.371,0.004],[0.373,-0.016],[0.375,0.016],[0.377,-0.02],[0.379,0.014],[0.381,-0.02],[0.383,0.018],[0.385,-0.016],[0.387,0.016],[0.389,-0.018],[0.391,0.012],[0.393,-0.014],[0.395,0.016],[0.397,-0.01],[0.399,0.02],[0.401,-0.01],[0.403,-0.038],[0.405,-0.02],[0.407,0.004],[0.409,-0.014],[0.411,0.008],[0.413,-0.012],[0.415,0.01],[0.417,-0.014],[0.419,0.012],[0.421,-0.01],[0.423,0.014],[0.425,-0.012],[0.427,0.012],[0.429,-0.008],[0.431,0.016],[0.433,-0.006],[0.435,0.018],[0.437,-0.004],[0.439,0.02],[0.441,0.0],[0.443,0.03],[0.445,0.02],[0.447,-0.02],[0.449,-0.03],[0.451,-0.01],[0.453,-0.022],[0.455,0.0],[0.457,-0.016],[0.459,0.004],[0.461,-0.014],[0.463,0.006],[0.465,-0.01],[0.467,0.01],[0.469,-0.008],[0.471,0.012],[0.473,-0.006],[0.475,0.014],[0.477,-0.004],[0.479,0.016],[0.481,-0.002],[0.483,0.018],[0.485,0.0],[0.487,0.02],[0.489,0.004],[0.491,0.024],[0.493,0.01],[0.495,0.028],[0.497,0.0],[0.499,-0.034],[0.501,-0.02],[0.503,0.0],[0.505,-0.016],[0.507,0.008],[0.509,-0.012],[0.511,0.012],[0.513,-0.01],[0.515,0.014],[0.517,-0.012],[0.519,0.01],[0.521,-0.01],[0.523,0.012],[0.525,-0.008],[0.527,0.014],[0.529,-0.006],[0.531,0.016],[0.533,-0.004],[0.535,0.014],[0.537,-0.006],[0.539,0.016],[0.541,-0.004],[0.543,0.018],[0.545,-0.002],[0.547,0.018],[0.549,0.0],[0.551,0.02],[0.553,0.004],[0.555,0.02],[0.557,0.004],[0.559,0.018],[0.561,-0.004],[0.563,-0.016],[0.565,-0.028],[0.567,-0.01],[0.569,0.008],[0.571,-0.008],[0.573,0.01],[0.575,-0.006],[0.577,0.012],[0.579,-0.006],[0.581,0.012],[0.583,-0.004],[0.585,0.014],[0.587,-0.004],[0.589,0.014],[0.591,-0.002],[0.593,0.014],[0.595,-0.002],[0.597,0.012],[0.599,0.0],[0.601,0.006]],
[[0.875,0.004],[0.877,-0.01],[0.879,0.008],[0.881,-0.012],[0.883,0.006],[0.885,-0.014],[0.887,0.002],[0.889,-0.024],[0.891,-0.008],[0.893,-0.02],[0.895,0.0],[0.897,-0.016],[0.899,0.002],[0.901,-0.014],[0.903,0.004],[0.905,-0.012],[0.907,0.004],[0.909,-0.012],[0.911,0.006],[0.913,-0.01],[0.915,0.004],[0.917,-0.012],[0.919,0.006],[0.921,-0.01],[0.923,0.004],[0.925,-0.012],[0.927,0.002],[0.929,-0.014],[0.931,0.0],[0.933,-0.016],[0.935,-0.002],[0.937,-0.018],[0.939,-0.004],[0.941,-0.02],[0.943,-0.004],[0.945,-0.022],[0.947,-0.006],[0.949,-0.024],[0.951,-0.008],[0.953,-0.026],[0.955,-0.01],[0.957,-0.028],[0.959,-0.012],[0.961,-0.03],[0.963,-0.012],[0.965,-0.03],[0.967,-0.014],[0.969,-0.032],[0.971,-0.016],[0.973,-0.032],[0.975,-0.016],[0.977,-0.034],[0.979,-0.018],[0.981,-0.034],[0.983,-0.02],[0.985,-0.036],[0.987,-0.045],[0.989,-0.03],[0.992,0.0],[0.995,0.03],[0.998,0.05],[1.001,0.062],[1.004,0.068],[1.007,0.05],[1.01,0.04],[1.013,0.044],[1.016,0.03],[1.019,0.032],[1.022,0.02],[1.025,0.024],[1.028,0.012],[1.031,0.018],[1.034,0.006],[1.037,0.014],[1.04,0.002],[1.043,0.012],[1.046,0.0],[1.049,0.01],[1.052,-0.002],[1.055,0.009],[1.058,-0.004],[1.061,0.008],[1.064,-0.005],[1.067,0.007],[1.07,-0.005],[1.073,0.006],[1.076,-0.006],[1.079,0.007],[1.082,-0.006],[1.085,0.007],[1.088,-0.008],[1.091,0.008],[1.094,-0.01],[1.097,0.012],[1.1,-0.014],[1.103,0.014],[1.106,-0.012],[1.109,0.01],[1.112,-0.008],[1.115,0.006],[1.118,-0.006],[1.121,0.006],[1.124,-0.005],[1.127,0.006],[1.13,-0.006],[1.133,0.006],[1.136,-0.005],[1.139,0.007],[1.142,-0.008],[1.145,0.01],[1.148,-0.01],[1.151,0.01],[1.154,-0.008],[1.157,0.007],[1.16,-0.006],[1.163,0.006],[1.166,-0.005],[1.169,0.006],[1.172,-0.006],[1.175,0.007],[1.178,-0.008],[1.181,0.008],[1.184,-0.006],[1.187,0.006],[1.19,-0.005],[1.193,0.005],[1.196,-0.005],[1.2,0.004]]
];

const cfd6B = [
[[-0.05,0.006],[-0.04,0.012],[-0.036,0.018],[-0.033,0.03],[-0.03,0.02],[-0.025,0.026],[-0.02,0.04],[-0.015,0.058],[-0.011,0.085],[-0.007,0.13],[-0.004,0.2],[-0.002,0.26],[-0.001,0.307],[0.0005,0.2],[0.002,-0.1],[0.0035,-0.27],[0.006,-0.277],[0.008,-0.265],[0.0105,-0.1],[0.013,0.04],[0.0155,0.15],[0.0178,0.183],[0.0195,0.1],[0.021,-0.08],[0.022,-0.192],[0.0235,-0.15],[0.026,-0.09],[0.03,-0.046],[0.033,-0.032],[0.036,-0.03],[0.039,-0.045],[0.042,-0.066],[0.045,-0.03],[0.048,0.04],[0.0506,0.118],[0.054,0.128],[0.057,0.12],[0.059,0.05],[0.0605,-0.03],[0.062,-0.087],[0.064,-0.06],[0.067,0.01],[0.0696,0.043],[0.0715,0.0],[0.0736,-0.038],[0.078,-0.063],[0.081,-0.05],[0.085,-0.038],[0.09,-0.024],[0.094,-0.014],[0.1,-0.01],[0.106,-0.008],[0.1126,-0.006],[0.116,0.04],[0.119,0.11],[0.1205,0.03],[0.122,-0.014],[0.124,-0.054],[0.127,-0.042],[0.131,-0.03],[0.137,-0.018],[0.144,-0.01],[0.15,-0.004],[0.156,0.001]],
[[0.413,-0.01],[0.42,-0.008],[0.428,-0.006],[0.434,-0.004],[0.438,0.0],[0.441,0.05],[0.4443,0.112],[0.4465,0.04],[0.448,-0.03],[0.45,-0.0625],[0.453,-0.045],[0.457,-0.03],[0.462,-0.022],[0.468,-0.016],[0.476,-0.01],[0.484,-0.008],[0.488,0.0],[0.491,0.03],[0.4949,0.126],[0.4975,0.06],[0.5,-0.024],[0.503,-0.046],[0.506,-0.02],[0.509,0.0],[0.511,0.03],[0.5138,0.067],[0.516,0.01],[0.518,-0.046],[0.521,-0.036],[0.526,-0.024],[0.534,-0.016],[0.544,-0.01],[0.552,-0.008],[0.558,-0.006],[0.561,0.03],[0.5644,0.098],[0.5665,0.03],[0.568,-0.024],[0.5694,-0.058],[0.573,-0.042],[0.578,-0.03],[0.586,-0.018],[0.594,-0.014],[0.6,-0.012]],
[[0.877,0.0],[0.881,0.006],[0.883,0.019],[0.8866,0.1],[0.8885,0.02],[0.89,-0.054],[0.893,-0.03],[0.897,-0.013],[0.905,-0.005],[0.915,-0.002],[0.925,-0.002],[0.929,0.01],[0.932,0.06],[0.934,0.108],[0.936,0.03],[0.939,-0.079],[0.942,-0.04],[0.945,0.0],[0.948,0.03],[0.952,0.071],[0.955,0.03],[0.957,-0.02],[0.959,-0.091],[0.962,-0.07],[0.966,-0.045],[0.972,-0.037],[0.978,-0.04],[0.984,-0.045],[0.987,0.0],[0.989,0.067],[0.991,0.0],[0.993,-0.127],[0.996,-0.05],[0.999,0.019],[1.0036,0.12],[1.008,0.1],[1.013,0.075],[1.019,0.043],[1.025,0.03],[1.03,0.024],[1.04,0.015],[1.048,0.011],[1.06,0.008],[1.076,0.005],[1.09,0.004],[1.111,0.004]]
];

// ---------- build chart ----------
const COLORS = { 'Full-scale': '#000000', 'Model 6 car': '#ff0000', 'Model 7 car': '#00ff00', 'CFD 6 car': '#ff00ff' };
const WIDTHS = { 'Full-scale': 1.2, 'Model 6 car': 1.3, 'Model 7 car': 1.7, 'CFD 6 car': 1.5 };
const AX = '#262626';
const FONT = '"Liberation Serif", "Times New Roman", serif';

function lineSeries(name, data, gi) {
  return { name, type: 'line', xAxisIndex: gi * 2, yAxisIndex: gi * 2, data, showSymbol: false, symbol: 'none',
    animation: false, silent: true, sampling: null, z: 2,
    lineStyle: { color: COLORS[name], width: WIDTHS[name] }, itemStyle: { color: COLORS[name] } };
}
function groupSeries(gi, full, m6, m7, cfd) {
  const out = [lineSeries('Full-scale', full, gi)];
  m6.forEach(s => out.push(lineSeries('Model 6 car', s, gi)));
  m7.forEach(s => out.push(lineSeries('Model 7 car', s, gi)));
  cfd.forEach(s => out.push(lineSeries('CFD 6 car', s, gi)));
  return out;
}
const grids = [
  { left: 111, top: 24, width: 742, height: 288 },
  { left: 111, top: 457, width: 742, height: 287 }
];
const xAxes = [], yAxes = [];
grids.forEach((g, gi) => {
  const common = { gridIndex: gi, type: 'value', min: -0.2, max: 1.2, interval: 0.2, splitLine: { show: false },
    axisLine: { show: true, onZero: false, lineStyle: { color: AX, width: 1 } },
    axisTick: { show: true, inside: true, length: 7, lineStyle: { color: AX } } };
  xAxes.push(Object.assign({}, common, { position: 'bottom',
    axisLabel: { color: AX, fontFamily: FONT, fontSize: 27, margin: 13, customValues: xTicks } }));
  xAxes.push(Object.assign({}, common, { position: 'top', axisLabel: { show: false } }));
  const ycommon = { gridIndex: gi, type: 'value', min: -0.3, max: 0.4, splitLine: { show: false },
    axisLine: { show: true, onZero: false, lineStyle: { color: AX, width: 1 } },
    axisTick: { show: true, inside: true, length: 7, customValues: yTicks, lineStyle: { color: AX } } };
  yAxes.push(Object.assign({}, ycommon, { position: 'left',
    axisLabel: { color: AX, fontFamily: FONT, fontSize: 27, margin: 10, customValues: yTicks } }));
  yAxes.push(Object.assign({}, ycommon, { position: 'right', axisLabel: { show: false } }));
});
function legendAt(top) {
  return { data: seriesNames, orient: 'vertical', left: 704, top, itemWidth: 58, itemHeight: 2, itemGap: 4.7,
    icon: 'rect', padding: [10, 9, 4, 9], borderColor: AX, borderWidth: 1, backgroundColor: '#fff', z: 10,
    selectedMode: false, textStyle: { fontFamily: FONT, fontSize: 16, color: '#000', lineHeight: 16 } };
}
function txt(text, x, y, size, italic, align) {
  return { type: 'text', x, y, z: 20, silent: true,
    style: { text, fill: '#000', fontFamily: FONT, fontSize: size, fontStyle: italic ? 'italic' : 'normal',
      align: align || 'left', verticalAlign: 'middle' } };
}
const graphics = [];
[[0, 24], [1, 457]].forEach(([gi, top]) => {
  graphics.push(txt('C', 15, top + 133, 33, true));
  graphics.push(txt('P', 40, top + 147, 21, true));
  graphics.push(txt('τ', 372, top + 351, 27, true, 'center'));
  graphics.push(txt(gi === 0 ? captionA : captionB, 481, top + 383, 25.5, false, 'center'));
});

const chart = echarts.init(document.getElementById('c'), null, { renderer: 'canvas' });
chart.setOption({
  backgroundColor: '#fff', animation: false,
  grid: grids.map(g => Object.assign({ show: true, borderColor: AX, borderWidth: 1, backgroundColor: 'transparent' }, g)),
  xAxis: xAxes, yAxis: yAxes,
  legend: [legendAt(5), legendAt(448)],
  graphic: graphics,
  series: [].concat(groupSeries(0, fullScaleA, model6A, model7A, cfd6A), groupSeries(1, fullScaleB, model6B, model7B, cfd6B))
});
</script></body></html>
